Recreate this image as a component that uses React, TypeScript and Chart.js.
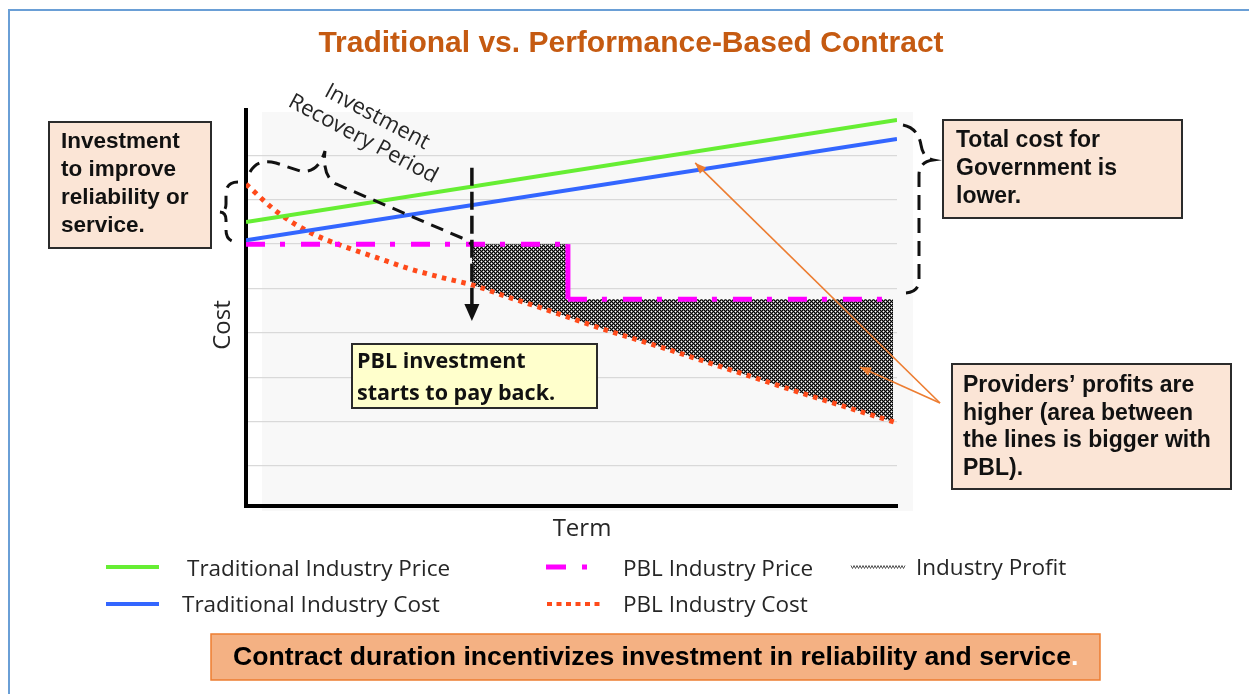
import React, { useEffect, useRef } from "react";
import { Chart, registerables } from "chart.js";

Chart.register(...registerables);

const W = 1249;
const H = 694;

// ---------------- data ----------------
const seriesLabels = [
  "Traditional Industry Price",
  "Traditional Industry Cost",
  "PBL Industry Price",
  "PBL Industry Cost",
  "Industry Profit",
];
const traditionalTerms = [0, 20];
const traditionalPrice = [6.5, 8.8];
const traditionalCost = [6.09, 8.37];
const pblPriceTerms = [0, 9.89, 9.89, 20];
const pblPrice = [6.0, 6.0, 4.76, 4.76];
const pblCostTerms = [0, 1, 2, 3, 4, 5, 6, 7, 8, 9, 10, 11, 12, 13, 14, 15, 16, 17, 18, 19, 20];
const pblCost = [7.35, 6.7, 6.25, 5.95, 5.7, 5.45, 5.25, 5.07, 4.82, 4.58, 4.33, 4.08, 3.85, 3.62, 3.38, 3.14, 2.9, 2.66, 2.43, 2.2, 1.97];
const profitTerms = [6.94, 9.89, 9.89, 19.88];
const profitTop = [6.0, 6.0, 4.76, 4.76];
const paybackTerm = 6.94;
const paybackArrowFrom = 7.72;
const paybackArrowTo = 4.27;
const termAxis = [0, 20];
const costAxis = [0.1, 9];
const costGridValues = [1, 2, 3, 4, 5, 6, 7, 8];
// orange call-out targets (term, cost)
const calloutTargets = [
  [13.8, 7.83],
  [18.86, 3.23],
];

// ---------------- text ----------------
const titleText = "Traditional vs. Performance-Based Contract";
const xTitle = "Term";
const yTitle = "Cost";
const recoveryText = ["Investment", "Recovery Period"];
const investBox = ["Investment", "to improve", "reliability or", "service."];
const govBox = ["Total cost for", "Government is", "lower."];
const profitBox = ["Providers\u2019 profits are", "higher (area between", "the lines is bigger with", "PBL)."];
const paybackBox = ["PBL investment", "starts to pay back."];
const footerText = "Contract duration incentivizes investment in reliability and service";

const GREEN = "#66ee33";
const BLUE = "#3366ff";
const MAGENTA = "#ff00ff";
const ORANGE = "#ff4a1a";
const ARROW = "#ed7d31";
const ARIAL = '"Liberation Sans", Arial, sans-serif';
const SANS = '"Open Sans", "DejaVu Sans", sans-serif';

function makePattern(): CanvasPattern | string {
  const c = document.createElement("canvas");
  c.width = 4;
  c.height = 4;
  const g = c.getContext("2d");
  if (!g) return "#555";
  g.fillStyle = "#000";
  g.fillRect(0, 0, 4, 4);
  g.fillStyle = "#707070";
  [[0, 1], [1, 0], [2, 1], [1, 2], [3, 2], [2, 3], [3, 0], [0, 3]].forEach(([x, y]) => g.fillRect(x, y, 1, 1));
  g.fillStyle = "#fff";
  g.fillRect(1, 1, 1, 1);
  g.fillRect(3, 3, 1, 1);
  const p = g.createPattern(c, "repeat");
  return p || "#555";
}

function drawBox(
  ctx: CanvasRenderingContext2D,
  x: number, y: number, w: number, h: number,
  fill: string, lines: string[], font: string, tx: number, firstBase: number, step: number
) {
  ctx.fillStyle = fill;
  ctx.fillRect(x, y, w, h);
  ctx.strokeStyle = "#2b2b2b";
  ctx.lineWidth = 2;
  ctx.setLineDash([]);
  ctx.strokeRect(x, y, w, h);
  ctx.fillStyle = "#111";
  ctx.font = font;
  ctx.textAlign = "left";
  ctx.textBaseline = "alphabetic";
  lines.forEach((l, i) => ctx.fillText(l, tx, firstBase + i * step));
}

function arrowHead(ctx: CanvasRenderingContext2D, fx: number, fy: number, tx: number, ty: number, len: number, half: number) {
  const a = Math.atan2(ty - fy, tx - fx);
  ctx.beginPath();
  ctx.moveTo(tx, ty);
  ctx.lineTo(tx - len * Math.cos(a) + half * Math.sin(a), ty - len * Math.sin(a) - half * Math.cos(a));
  ctx.lineTo(tx - len * Math.cos(a) - half * Math.sin(a), ty - len * Math.sin(a) + half * Math.cos(a));
  ctx.closePath();
  ctx.fill();
}

const decorPlugin = {
  id: "decor",
  beforeDraw(chart: any) {
    const ctx: CanvasRenderingContext2D = chart.ctx;
    const a = chart.chartArea;
    ctx.save();
    ctx.fillStyle = "#ffffff";
    ctx.fillRect(0, 0, W, H);
    ctx.strokeStyle = "#6a9fd6";
    ctx.lineWidth = 2;
    ctx.strokeRect(9, 10, W + 20, H + 20);
    ctx.fillStyle = "#f8f8f8";
    ctx.fillRect(a.left + 16, a.top + 1, a.right - a.left, a.bottom - a.top + 4);
    // y axis line extends slightly above the plot
    ctx.fillStyle = "#000";
    ctx.fillRect(a.left - 2, a.top - 3, 4, 6);
    ctx.restore();
  },
  afterDraw(chart: any) {
    const ctx: CanvasRenderingContext2D = chart.ctx;
    const xs = chart.scales.x;
    const ys = chart.scales.y;
    const ds = chart.data.datasets;
    ctx.save();

    // title
    ctx.fillStyle = "#c55a11";
    ctx.font = `bold 30px ${ARIAL}`;
    ctx.textAlign = "center";
    ctx.textBaseline = "alphabetic";
    ctx.fillText(titleText, 631, 52);

    // axis titles
    ctx.fillStyle = "#262626";
    ctx.font = `24px ${SANS}`;
    ctx.fillText(xTitle, 582, 536);
    ctx.save();
    ctx.translate(230, 325);
    ctx.rotate(-Math.PI / 2);
    ctx.textBaseline = "alphabetic";
    ctx.fillText(yTitle, 0, 0);
    ctx.restore();

    // rotated "Investment Recovery Period"
    ctx.save();
    ctx.font = `22px ${SANS}`;
    ctx.fillStyle = "#262626";
    ctx.textBaseline = "middle";
    const ang = (28 * Math.PI) / 180;
    ctx.translate(377, 117);
    ctx.rotate(ang);
    ctx.fillText(recoveryText[0], 0, 0);
    ctx.fillText(recoveryText[1], -2, 26);
    ctx.restore();

    // dashed braces
    ctx.strokeStyle = "#111";
    ctx.lineWidth = 3;
    ctx.setLineDash([13, 8]);
    ctx.beginPath();
    ctx.moveTo(250, 172);
    ctx.quadraticCurveTo(258, 158, 276, 163);
    ctx.lineTo(300, 171);
    ctx.quadraticCurveTo(318, 174, 325, 151);
    ctx.quadraticCurveTo(322, 176, 336, 184);
    ctx.lineTo(462, 238);
    ctx.quadraticCurveTo(470, 241, 472, 246);
    ctx.stroke();

    ctx.beginPath();
    ctx.moveTo(238, 182);
    ctx.quadraticCurveTo(226, 182, 226, 194);
    ctx.lineTo(226, 204);
    ctx.quadraticCurveTo(226, 212, 219, 212);
    ctx.quadraticCurveTo(226, 212, 226, 220);
    ctx.lineTo(226, 230);
    ctx.quadraticCurveTo(226, 242, 238, 242);
    ctx.stroke();

    ctx.setLineDash([15, 8]);
    ctx.beginPath();
    ctx.moveTo(903, 125);
    ctx.quadraticCurveTo(918, 128, 921, 145);
    ctx.quadraticCurveTo(923, 158, 933, 160);
    ctx.quadraticCurveTo(919, 162, 919, 175);
    ctx.lineTo(919, 280);
    ctx.quadraticCurveTo(919, 292, 906, 293);
    ctx.stroke();

    // payback arrow
    const px = xs.getPixelForValue(paybackTerm);
    const pyFrom = ys.getPixelForValue(paybackArrowFrom);
    const pyTo = ys.getPixelForValue(paybackArrowTo);
    ctx.lineWidth = 3.5;
    ctx.setLineDash([18, 6]);
    ctx.beginPath();
    ctx.moveTo(px, pyFrom);
    ctx.lineTo(px, pyTo - 14);
    ctx.stroke();
    ctx.setLineDash([]);
    ctx.fillStyle = "#111";
    arrowHead(ctx, px, pyFrom, px, pyTo, 17, 7.5);

    // orange call-out arrows
    ctx.strokeStyle = ARROW;
    ctx.fillStyle = ARROW;
    ctx.lineWidth = 1.6;
    const sx = 940;
    const sy = 403;
    calloutTargets.forEach(([t, c]) => {
      const tx = xs.getPixelForValue(t);
      const ty = ys.getPixelForValue(c);
      ctx.beginPath();
      ctx.moveTo(sx, sy);
      ctx.lineTo(tx, ty);
      ctx.stroke();
      arrowHead(ctx, sx, sy, tx, ty, 11, 4.5);
    });

    // boxes
    drawBox(ctx, 49, 122, 162, 126, "#fbe5d6", investBox, `bold 22.5px ${ARIAL}`, 61, 148, 28);
    drawBox(ctx, 943, 120, 239, 98, "#fbe5d6", govBox, `bold 23px ${ARIAL}`, 956, 147, 28);
    drawBox(ctx, 952, 364, 279, 125, "#fbe5d6", profitBox, `bold 23px ${ARIAL}`, 963, 392, 27.5);
    drawBox(ctx, 352, 344, 245, 64, "#ffffcc", paybackBox, `bold 21.5px ${SANS}`, 357, 368, 32);

    // legend
    const lx = [[106, 159], [106, 159], [546, 600], [547, 602], [851, 905]];
    const ly = [567, 604, 567, 604, 567];
    const tx = [187, 182, 623, 623, 916];
    const tb = [576, 612, 576, 612, 575];
    ctx.font = `22.5px ${SANS}`;
    ctx.textAlign = "left";
    ctx.textBaseline = "alphabetic";
    for (let i = 0; i < 5; i++) {
      const d = ds[i];
      ctx.save();
      if (i === 4) {
        ctx.strokeStyle = "#555";
        ctx.lineWidth = 1;
        ctx.beginPath();
        for (let x = lx[i][0], k = 0; x <= lx[i][1]; x += 1.5, k++) {
          const y = ly[i] + (k % 2 === 0 ? -1.5 : 1.5);
          if (k === 0) ctx.moveTo(x, y);
          else ctx.lineTo(x, y);
        }
        ctx.stroke();
      } else {
        ctx.strokeStyle = d.borderColor;
        ctx.lineWidth = i === 2 ? 5 : 4;
        if (i === 2) ctx.setLineDash([20, 16, 5, 20]);
        else if (i === 3) ctx.setLineDash([5, 4.5]);
        else ctx.setLineDash([]);
        ctx.beginPath();
        ctx.moveTo(lx[i][0], ly[i]);
        ctx.lineTo(lx[i][1], ly[i]);
        ctx.stroke();
      }
      ctx.restore();
      ctx.fillStyle = "#262626";
      ctx.fillText(d.label, tx[i], tb[i]);
    }

    // footer banner
    ctx.setLineDash([]);
    ctx.fillStyle = "#f4b183";
    ctx.fillRect(211, 634, 889, 46);
    ctx.strokeStyle = ARROW;
    ctx.lineWidth = 1.5;
    ctx.strokeRect(211, 634, 889, 46);
    ctx.font = `bold 26.6px ${ARIAL}`;
    ctx.fillStyle = "#000";
    ctx.textAlign = "left";
    ctx.textBaseline = "middle";
    ctx.fillText(footerText, 233, 658);
    const fw = ctx.measureText(footerText).width;
    ctx.fillStyle = "#fff";
    ctx.fillText(".", 233 + fw, 658);

    ctx.restore();
  },
};

export default function App() {
  const ref = useRef<HTMLCanvasElement | null>(null);
  useEffect(() => {
    const canvas = ref.current;
    if (!canvas) return;
    const pattern = makePattern();
    const toPts = (xsArr: number[], ysArr: number[]) => xsArr.map((x, i) => ({ x, y: ysArr[i] }));
    const chart = new Chart(canvas, {
      type: "line",
      data: {
        datasets: [
          {
            label: seriesLabels[0],
            data: toPts(traditionalTerms, traditionalPrice),
            borderColor: GREEN,
            borderWidth: 4,
            pointRadius: 0,
            fill: false,
          },
          {
            label: seriesLabels[1],
            data: toPts(traditionalTerms, traditionalCost),
            borderColor: BLUE,
            borderWidth: 4,
            pointRadius: 0,
            fill: false,
          },
          {
            label: seriesLabels[2],
            data: toPts(pblPriceTerms, pblPrice),
            borderColor: MAGENTA,
            borderWidth: 5,
            borderDash: [19, 15, 5, 16],
            pointRadius: 0,
            fill: false,
            segment: {
              borderDash: (c: any) => (c.p0.parsed.x === c.p1.parsed.x ? [] : undefined),
            },
          },
          {
            label: seriesLabels[3],
            data: toPts(pblCostTerms, pblCost),
            borderColor: ORANGE,
            borderWidth: 5,
            borderDash: [4.5, 5.5],
            cubicInterpolationMode: "monotone",
            pointRadius: 0,
            fill: false,
          },
          {
            label: seriesLabels[4],
            data: toPts(profitTerms, profitTop),
            borderColor: "rgba(0,0,0,0)",
            borderWidth: 0,
            backgroundColor: pattern as any,
            pointRadius: 0,
            fill: { target: 3 },
          },
        ] as any,
      },
      options: {
        responsive: false,
        animation: false,
        events: [],
        layout: { padding: { left: 246, top: 111, right: W - 897, bottom: H - 506 } },
        plugins: {
          legend: { display: false },
          tooltip: { enabled: false },
          title: { display: false },
        },
        scales: {
          x: {
            type: "linear",
            min: termAxis[0],
            max: termAxis[1],
            ticks: { display: false },
            grid: { display: false, drawTicks: false },
            border: { display: true, color: "#000", width: 4 },
          },
          y: {
            type: "linear",
            min: costAxis[0],
            max: costAxis[1],
            ticks: { display: false, stepSize: 1 },
            grid: {
              drawTicks: false,
              lineWidth: 1.3,
              color: (c: any) =>
                c.tick && costGridValues.includes(c.tick.value) ? "#d9d9d9" : "rgba(0,0,0,0)",
            },
            border: { display: true, color: "#000", width: 4 },
          },
        },
      },
      plugins: [decorPlugin],
    });
    return () => chart.destroy();
  }, []);
  return (
    <div style={{ position: "fixed", left: 0, top: 0, width: W, height: H, background: "#fff" }}>
      <canvas ref={ref} width={W} height={H} style={{ display: "block", width: W, height: H }} />
    </div>
  );
}
